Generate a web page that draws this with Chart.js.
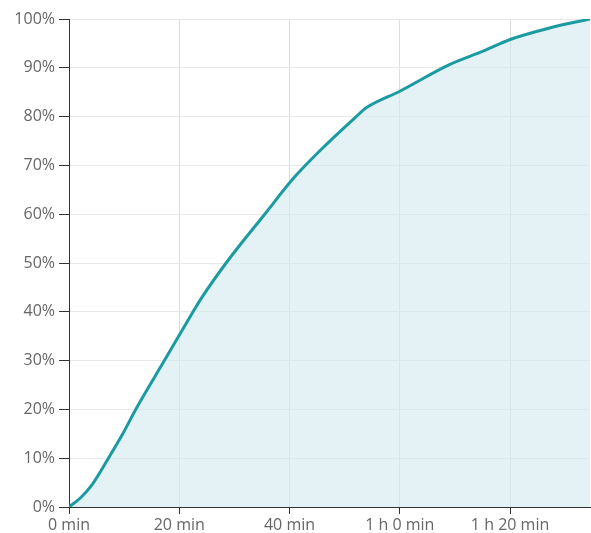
<!DOCTYPE html>
<html>
<head>
<meta charset="utf-8">
<script src="https://cdn.jsdelivr.net/npm/chart.js@4"></script>
<style>
  html, body { margin: 0; padding: 0; background: #fff; }
  #wrap { width: 591px; height: 533px; }
</style>
</head>
<body>
<div id="wrap"><canvas id="chart" width="591" height="533"></canvas></div>
<script>
// minutes since start
const minutes = [0, 2.1, 4.2, 7.15, 9.7, 12.1, 17.3, 22.5, 23.9, 28.5, 35.5, 40.9, 45.5, 52.1, 53.9, 60, 69.1, 75.1, 80, 87.3, 94.5];
// cumulative share in percent
const percent = [0, 1.9, 4.6, 10, 14.9, 20, 30, 40, 42.6, 50, 60, 67.6, 73, 80, 81.8, 85.2, 90.7, 93.4, 95.8, 98.2, 100];
const xTicks = [0, 20, 40, 60, 80];

const fmtMin = (v) => {
    const h = Math.floor(v / 60);
    const m = Math.round(v % 60);
    return h > 0 ? `${h} h ${m} min` : `${m} min`;
};

const points = minutes.map((m, i) => ({ x: m, y: percent[i] }));

const ctx = document.getElementById('chart').getContext('2d');
new Chart(ctx, {
    type: 'line',
    data: {
        datasets: [{
            data: points,
            borderColor: '#1a9aa1',
            backgroundColor: 'rgba(210, 234, 240, 0.6)',
            borderWidth: 3,
            fill: 'origin',
            pointRadius: 0,
            cubicInterpolationMode: 'monotone'
        }]
    },
    options: {
        responsive: false,
        animation: false,
        layout: { padding: { top: 19, right: 1 } },
        plugins: { legend: { display: false }, tooltip: { enabled: false } },
        scales: {
            x: {
                type: 'linear',
                min: 0,
                max: 94.5,
                afterBuildTicks: (axis) => { axis.ticks = xTicks.map(v => ({ value: v })); },
                afterFit: (axis) => { axis.height = 26; },
                ticks: {
                    callback: (v) => fmtMin(v),
                    color: '#666',
                    font: { family: 'Open Sans', size: 16 },
                    padding: 2,
                    maxRotation: 0
                },
                grid: { color: '#dedede', tickColor: '#333', tickLength: 7 },
                border: { color: '#333', width: 1 }
            },
            y: {
                min: 0,
                max: 100,
                afterFit: (axis) => { axis.width = 69; },
                ticks: {
                    stepSize: 10,
                    callback: (v) => v + '%',
                    color: '#666',
                    font: { family: 'Open Sans', size: 16 },
                    padding: 4
                },
                grid: { color: '#e8e8e8', tickColor: '#333', tickLength: 10 },
                border: { color: '#333', width: 1 }
            }
        }
    }
});
</script>
</body>
</html>
